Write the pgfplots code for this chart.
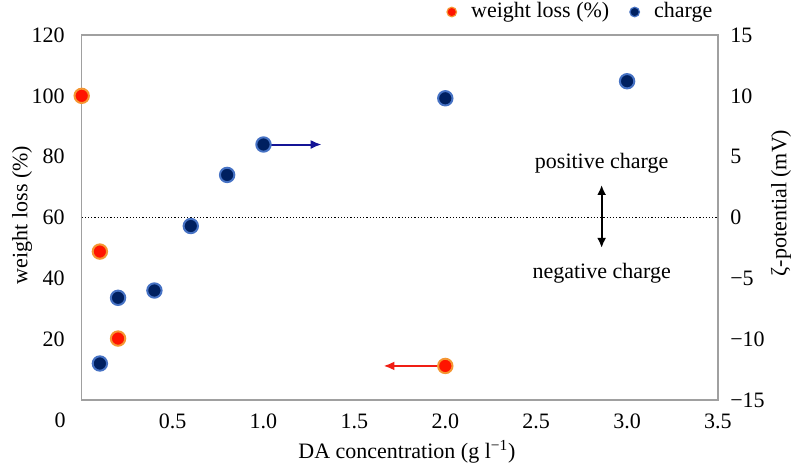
\documentclass[border=0pt]{standalone}
\usepackage{fontspec}
\setmainfont{Liberation Serif}
\usepackage{pgfplots}
\pgfplotsset{compat=1.18}
\usetikzlibrary{arrows.meta}
\definecolor{redfill}{RGB}{255,20,0}
\definecolor{redborder}{RGB}{245,150,50}
\definecolor{bluefill}{RGB}{0,32,96}
\definecolor{blueborder}{RGB}{70,114,196}
\definecolor{framegray}{RGB}{160,160,160}
\definecolor{arrowblue}{RGB}{20,20,150}
\definecolor{arrowred}{RGB}{240,30,20}
\begin{document}
\fontsize{11}{13}\selectfont
\begin{tikzpicture}
\begin{axis}[
  scale only axis, width=318.15pt, height=182.5pt,
  at={(40.85pt,34pt)}, anchor=south west,
  xmin=0, xmax=3.5, ymin=0, ymax=120,
  axis line style={framegray, line width=0.75pt},
  major tick length=0pt,
  xtick={0.5,1,1.5,2,2.5,3,3.5}, xticklabels={0.5,1.0,1.5,2.0,2.5,3.0,3.5},
  ytick={20,40,60,80,100,120},
  /pgf/number format/assume math mode=true,
  xticklabel style={anchor=center, yshift=-10.5pt},
  yticklabel style={xshift=-4.7pt},
  clip=false,
  legend style={at={(0.5725,1.063)}, anchor=west, draw=none, fill=none,
    legend columns=-1, inner sep=0pt,
    /tikz/every odd column/.append style={column sep=7pt},
    /tikz/every even column/.append style={column sep=10pt},
    nodes={inner sep=0pt}},
]
\addlegendimage{legend image code/.code={\draw[draw=redborder, fill=redfill, line width=0.6pt] (0pt,0pt) circle (2.4pt);}}
\addlegendentry{weight loss (\%)}
\addlegendimage{legend image code/.code={\draw[draw=blueborder, fill=bluefill, line width=0.6pt] (0pt,0pt) circle (2.4pt);}}
\addlegendentry{charge}
\draw[black, dash pattern=on 0.6pt off 1pt, line width=0.5pt] (axis cs:0,60) -- (axis cs:3.5,60);
\draw[arrowred, line width=1pt, -{Latex[length=5.5pt,width=4.5pt]}] (axis cs:2.0,11.2) -- (axis cs:1.66,11.2);
\draw[black, line width=1.1pt, {Latex[length=5pt,width=4.5pt]}-{Latex[length=5pt,width=4.5pt]}] (axis cs:2.86,70.7) -- (axis cs:2.86,50);
\node at (axis cs:2.86,77.9) {positive charge};
\node at (axis cs:2.86,41.7) {negative charge};
\addplot[only marks, mark=*, mark size=3.6pt, mark options={draw=redborder, fill=redfill, line width=1pt}, forget plot]
  coordinates {(0,100) (0.1,48.8) (0.2,20.2) (2.0,11.2)};
\end{axis}
\begin{axis}[
  scale only axis, width=318.15pt, height=182.5pt,
  at={(40.85pt,34pt)}, anchor=south west,
  xmin=0, xmax=3.5, ymin=-15, ymax=15,
  axis x line=none, axis y line*=right,
  axis line style={draw=none},
  major tick length=0pt,
  ytick={-15,-10,-5,0,5,10,15},
  yticklabels={−15,−10,−5,0,5,10,15},
  yticklabel style={xshift=2.3pt},
  clip=false,
]
\draw[arrowblue, line width=1pt, -{Latex[length=5.5pt,width=4.5pt]}] (axis cs:1.0,6.0) -- (axis cs:1.32,6.0);
\addplot[only marks, mark=*, mark size=3.6pt, mark options={draw=blueborder, fill=bluefill, line width=1pt}]
  coordinates {(0.1,-12.0) (0.2,-6.6) (0.4,-6.0) (0.6,-0.7) (0.8,3.5) (1.0,6.0) (2.0,9.8) (3.0,11.2)};
\end{axis}
\node[rotate=90] at (11pt,126.5pt) {weight loss (\%)};
\node[rotate=90] at (390.5pt,132.5pt) {ζ-potential (mV)};
\node at (203.5pt,8pt) {DA concentration (g l\textsuperscript{−1})};
\node at (30pt,24pt) {0};
\pgfresetboundingbox
\path[use as bounding box] (0pt,0pt) rectangle (397pt,234pt);
\end{tikzpicture}
\end{document}
